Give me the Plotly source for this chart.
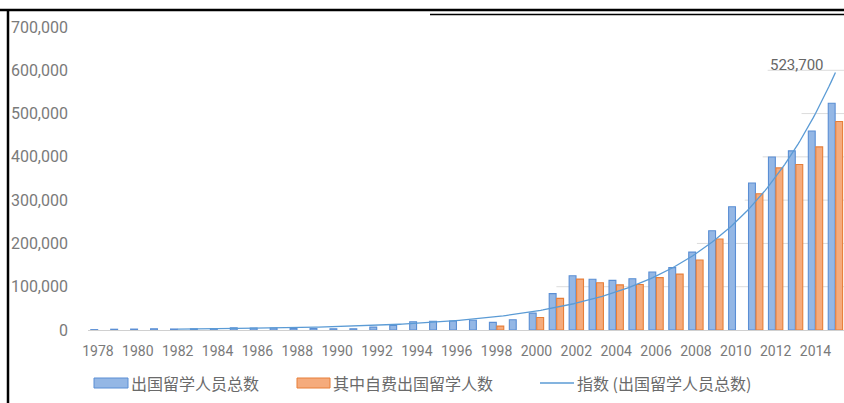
import numpy as np
import plotly.graph_objects as go

# ---------------- data ----------------
years = list(range(1978, 2016))
total = [860, 1777, 2124, 2922, 2326, 2633, 3073, 4888, 4676, 4703,
         3786, 3329, 2950, 2900, 6540, 10742, 19071, 20381, 20905, 22410,
         17622, 23749, 38989, 83973, 125179, 117307, 114682, 118515, 134000, 144000,
         179800, 229300, 284700, 339700, 399600, 413900, 459800, 523700]
self_funded = [None] * 20 + [9000, None, 29000, 73000, 117600, 109200, 104281, 105000,
                             121000, 129000, 161600, 210100, None, 314800, 374500,
                             382500, 423000, 481800]
tick_years = list(range(1978, 2015, 2))
y_ticks = list(range(0, 700001, 100000))
name_total = "出国留学人员总数"
name_self = "其中自费出国留学人数"
name_trend = "指数 (出国留学人员总数)"
trend_start = 1982
# faint grid segments visible on the right part of the chart (value, start year)
grid_segments = [(100000, 2001.0), (200000, 2008.05), (300000, 2010.45),
                 (400000, 2011.35), (500000, 2013.3), (600000, 2011.6)]

# ---------------- styles ----------------
W, H = 844, 403
L, T, B = 88, 27, 330          # plot area pixel edges
BLUE_FILL, BLUE_LINE = "#94B7E5", "#5A8ED4"
ORG_FILL, ORG_LINE = "#F5AB7C", "#E77E38"
TREND = "#5B9BD5"
TXT = "#7A7A7A"

def px(xp):
    return (xp - L) / (W - L)

def py(yp):
    return (B - yp) / (B - T)

# exponential trend (least squares on log values)
yr = np.array(years, dtype=float)
tv = np.array(total, dtype=float)
b, lna = np.polyfit(yr, np.log(tv), 1)
tx = np.linspace(trend_start, years[-1], 300)
ty = np.exp(lna + b * tx)

fig = go.Figure()
fig.add_trace(go.Bar(x=years, y=total, name=name_total,
                     marker=dict(color=BLUE_FILL, line=dict(color=BLUE_LINE, width=1.1)),
                     showlegend=False))
fig.add_trace(go.Bar(x=years, y=self_funded, name=name_self,
                     marker=dict(color=ORG_FILL, line=dict(color=ORG_LINE, width=1.1)),
                     showlegend=False))
fig.add_trace(go.Scatter(x=tx, y=ty, mode="lines", name=name_trend,
                         line=dict(color=TREND, width=1.3), showlegend=False,
                         cliponaxis=True))

shapes = []
for val, x0 in grid_segments:
    shapes.append(dict(type="line", xref="x", yref="y", x0=x0, x1=2015.5, y0=val, y1=val,
                       line=dict(color="#DCDCDC", width=1), layer="below"))

# frame lines of the screenshot
shapes.append(dict(type="line", xref="paper", yref="paper", x0=px(0), x1=px(W),
                   y0=py(10), y1=py(10), line=dict(color="black", width=2.5)))
shapes.append(dict(type="line", xref="paper", yref="paper", x0=px(430), x1=px(W),
                   y0=py(14.5), y1=py(14.5), line=dict(color="black", width=1.5)))
shapes.append(dict(type="line", xref="paper", yref="paper", x0=px(8), x1=px(8),
                   y0=py(9), y1=py(H), line=dict(color="black", width=2.5)))

# custom legend
LY = 383
shapes.append(dict(type="rect", xref="paper", yref="paper", x0=px(94), x1=px(128),
                   y0=py(388), y1=py(378), fillcolor=BLUE_FILL, line=dict(color=BLUE_LINE, width=1)))
shapes.append(dict(type="rect", xref="paper", yref="paper", x0=px(297), x1=px(330),
                   y0=py(388), y1=py(378), fillcolor=ORG_FILL, line=dict(color=ORG_LINE, width=1)))
shapes.append(dict(type="line", xref="paper", yref="paper", x0=px(540), x1=px(574),
                   y0=py(LY), y1=py(LY), line=dict(color=TREND, width=1.3)))

annotations = []
for xp, txt in [(129, name_total), (331, name_self), (575, name_trend)]:
    annotations.append(dict(xref="paper", yref="paper", x=px(xp), y=py(LY), text=txt,
                            showarrow=False, xanchor="left", yanchor="middle",
                            font=dict(family="Noto Sans CJK SC", size=16, color="#6A6A6A")))
# data label of last value
annotations.append(dict(xref="x", yref="y", x=years[-1] - 1.95, y=total[-1] + 88000,
                        text=f"{total[-1]:,}", showarrow=False, xanchor="center",
                        yanchor="middle",
                        font=dict(family="Roboto", size=15, color="#666666")))

fig.update_layout(
    width=W, height=H, autosize=False,
    margin=dict(l=L, r=0, t=T, b=H - B, pad=0),
    paper_bgcolor="white", plot_bgcolor="white",
    barmode="group", bargap=0.25, bargroupgap=0.08,
    shapes=shapes, annotations=annotations,
    font=dict(family="Roboto", color=TXT),
)
fig.update_xaxes(range=[1977.5, 2015.43], tickmode="array", tickvals=tick_years,
                 ticktext=[str(v) for v in tick_years], showgrid=False, zeroline=False,
                 showline=True, linecolor="#D0D0D0", linewidth=1, ticks="",
                 tickfont=dict(family="Roboto", size=14, color=TXT), ticklabelstandoff=8)
fig.update_yaxes(range=[0, 700000], tickmode="array", tickvals=y_ticks, tickformat=",",
                 showgrid=False, zeroline=False, showline=False, ticks="",
                 tickfont=dict(family="Roboto", size=16, color=TXT), ticklabelstandoff=19)

fig.write_html("out.html")
